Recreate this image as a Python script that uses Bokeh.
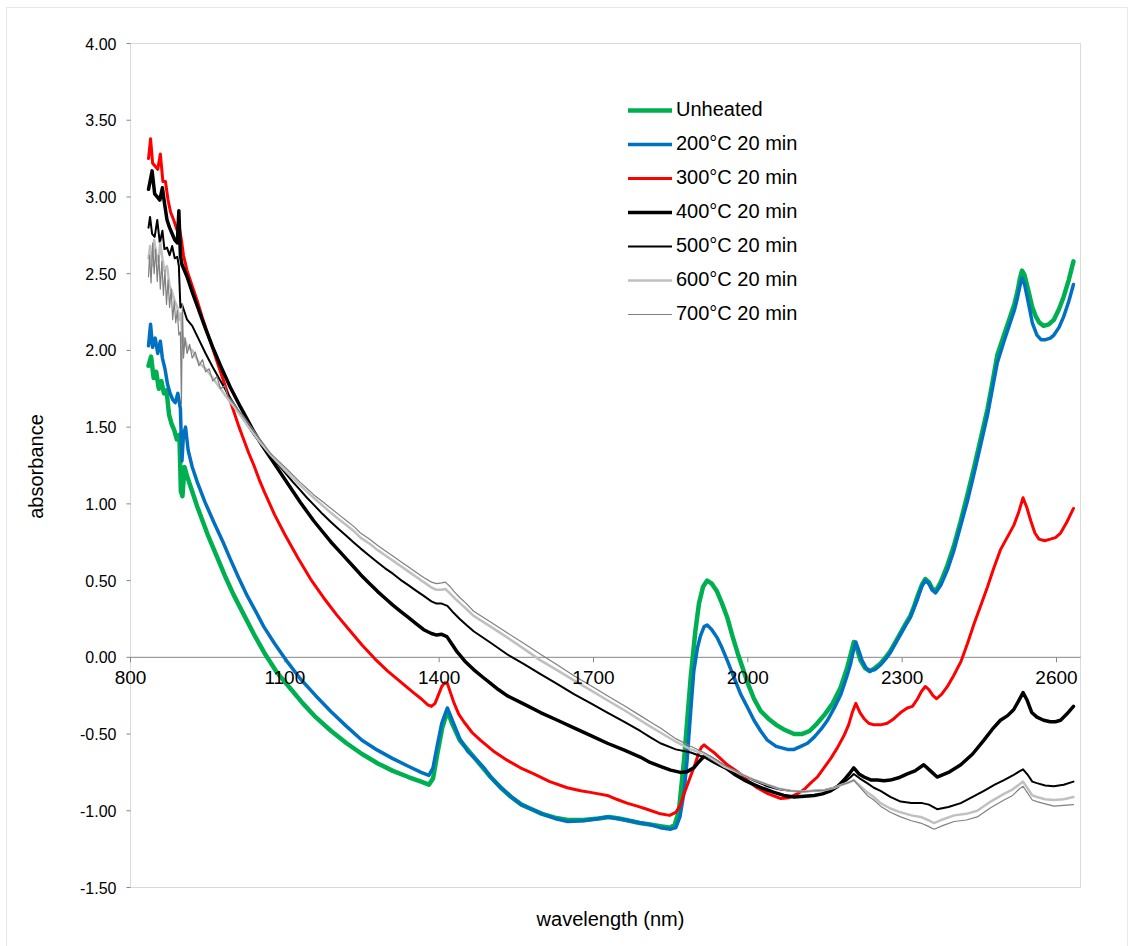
from bokeh.plotting import figure
from bokeh.models import (Range1d, LabelSet, Label, ColumnDataSource, Legend, LegendItem,
                          BoxAnnotation)
from bokeh.core.properties import value
from bokeh.embed import file_html
from bokeh.resources import INLINE

# ---------------- data (wavelength nm, absorbance) ----------------
unheated = [(835,1.90),(840,1.96),(845,1.82),(850,1.86),(855,1.75),(860,1.80),(865,1.72),(870,1.74),
 (875,1.58),(880,1.52),(885,1.48),(890,1.42),(895,1.45),(898,1.08),(901,1.05),(905,1.24),(910,1.18),
 (920,1.08),(930,0.98),(940,0.89),(950,0.80),(960,0.72),(970,0.64),(985,0.52),(1000,0.41),(1020,0.28),
 (1040,0.15),(1060,0.03),(1085,-0.10),(1110,-0.20),(1135,-0.30),(1160,-0.39),(1190,-0.48),(1220,-0.56),
 (1250,-0.63),(1280,-0.69),(1310,-0.74),(1340,-0.78),(1365,-0.81),(1380,-0.83),(1388,-0.79),(1397,-0.62),
 (1406,-0.46),(1416,-0.35),(1425,-0.43),(1440,-0.54),(1455,-0.60),(1470,-0.66),(1485,-0.72),(1500,-0.78),
 (1520,-0.85),(1540,-0.91),(1560,-0.96),(1580,-0.99),(1600,-1.02),(1625,-1.045),(1650,-1.06),(1680,-1.06),
 (1710,-1.05),(1730,-1.04),(1750,-1.05),(1770,-1.065),(1790,-1.08),(1810,-1.09),(1830,-1.10),(1850,-1.11),
 (1858,-1.09),(1866,-1.00),(1876,-0.67),(1889,-0.13),(1898,0.17),(1905,0.35),(1913,0.46),(1921,0.50),
 (1930,0.48),(1940,0.43),(1950,0.35),(1960,0.26),(1970,0.14),(1980,0.03),(1990,-0.07),(2000,-0.17),
 (2012,-0.27),(2025,-0.35),(2040,-0.40),(2055,-0.44),(2070,-0.47),(2090,-0.50),(2105,-0.50),(2120,-0.48),
 (2135,-0.43),(2150,-0.37),(2165,-0.30),(2180,-0.20),(2193,-0.07),(2200,0.02),(2206,0.10),(2212,0.06),
 (2219,-0.02),(2228,-0.07),(2237,-0.09),(2247,-0.07),(2258,-0.04),(2268,0.00),(2277,0.04),(2287,0.10),
 (2297,0.16),(2307,0.22),(2316,0.27),(2323,0.33),(2330,0.40),(2338,0.47),(2345,0.51),(2352,0.49),
 (2358,0.45),(2365,0.43),(2375,0.49),(2388,0.60),(2400,0.72),(2414,0.89),(2427,1.06),(2440,1.24),
 (2453,1.43),(2466,1.62),(2476,1.80),(2485,1.97),(2498,2.10),(2510,2.22),(2518,2.30),(2524,2.38),
 (2529,2.47),(2533,2.52),(2538,2.49),(2546,2.38),(2553,2.28),(2560,2.22),(2567,2.18),(2575,2.16),
 (2585,2.17),(2595,2.20),(2605,2.27),(2614,2.35),(2624,2.46),(2633,2.58)]

c200 = [(835,2.03),(839,2.17),(843,2.02),(848,2.08),(853,1.98),(858,2.06),(862,1.95),(867,1.88),
 (872,1.78),(877,1.72),(882,1.68),(887,1.66),(892,1.72),(897,1.62),(900,1.28),(903,1.45),(907,1.50),
 (912,1.35),(920,1.24),(930,1.14),(945,1.01),(962,0.88),(980,0.75),(994,0.64),(1010,0.52),(1027,0.40),
 (1045,0.29),(1059,0.20),(1080,0.09),(1105,-0.03),(1130,-0.14),(1160,-0.25),(1190,-0.355),(1220,-0.45),
 (1250,-0.54),(1280,-0.605),(1310,-0.66),(1340,-0.71),(1365,-0.75),(1380,-0.77),(1388,-0.72),(1396,-0.58),
 (1405,-0.43),(1416,-0.33),(1428,-0.43),(1440,-0.53),(1455,-0.61),(1470,-0.66),(1487,-0.72),(1500,-0.78),
 (1520,-0.85),(1540,-0.91),(1560,-0.96),(1580,-0.99),(1600,-1.02),(1625,-1.05),(1650,-1.07),(1681,-1.065),
 (1710,-1.05),(1727,-1.04),(1746,-1.05),(1770,-1.065),(1791,-1.08),(1810,-1.09),(1830,-1.11),(1850,-1.12),
 (1860,-1.11),(1868,-1.04),(1876,-0.88),(1882,-0.67),(1889,-0.35),(1895,-0.09),(1902,0.06),(1908,0.14),
 (1915,0.20),(1921,0.21),(1930,0.18),(1940,0.13),(1950,0.06),(1960,-0.02),(1973,-0.13),(1986,-0.24),
 (2000,-0.33),(2012,-0.41),(2025,-0.48),(2038,-0.54),(2055,-0.58),(2077,-0.60),(2090,-0.60),(2103,-0.58),
 (2116,-0.56),(2129,-0.52),(2142,-0.47),(2155,-0.41),(2168,-0.33),(2181,-0.24),(2192,-0.13),(2200,-0.04),
 (2205,0.04),(2210,0.10),(2216,0.04),(2222,-0.02),(2230,-0.07),(2237,-0.09),(2247,-0.08),(2258,-0.05),
 (2268,-0.01),(2277,0.03),(2287,0.09),(2297,0.15),(2307,0.21),(2316,0.26),(2323,0.32),(2330,0.38),
 (2338,0.46),(2345,0.50),(2352,0.48),(2358,0.44),(2365,0.42),(2375,0.47),(2388,0.57),(2400,0.69),
 (2414,0.86),(2427,1.02),(2440,1.20),(2453,1.39),(2466,1.58),(2476,1.76),(2485,1.92),(2498,2.06),
 (2510,2.18),(2518,2.26),(2524,2.34),(2529,2.42),(2533,2.47),(2538,2.43),(2546,2.30),(2553,2.18),
 (2562,2.10),(2570,2.07),(2579,2.07),(2588,2.08),(2595,2.10),(2605,2.15),(2614,2.22),(2624,2.32),
 (2633,2.43)]

c300 = [(835,3.25),(839,3.38),(843,3.22),(848,3.20),(853,3.18),(858,3.28),(863,3.10),(868,3.10),
 (873,2.98),(878,2.90),(884,2.85),(891,2.78),(895,2.80),(899,2.72),(903,2.62),(910,2.52),(920,2.42),
 (930,2.32),(940,2.21),(950,2.11),(960,2.01),(970,1.91),(980,1.81),(990,1.71),(1000,1.61),(1010,1.51),
 (1020,1.42),(1030,1.33),(1040,1.25),(1050,1.16),(1060,1.08),(1080,0.93),(1100,0.80),(1125,0.65),
 (1150,0.51),(1175,0.39),(1200,0.28),(1225,0.18),(1250,0.08),(1275,-0.01),(1300,-0.09),(1325,-0.16),
 (1350,-0.23),(1365,-0.27),(1378,-0.31),(1385,-0.32),(1392,-0.30),(1398,-0.25),(1405,-0.19),
 (1411,-0.165),(1416,-0.17),(1422,-0.23),(1428,-0.29),(1438,-0.37),(1448,-0.42),(1464,-0.49),
 (1480,-0.54),(1505,-0.61),(1532,-0.67),(1558,-0.72),(1584,-0.76),(1615,-0.81),(1649,-0.85),(1675,-0.87),
 (1694,-0.88),(1710,-0.89),(1727,-0.90),(1745,-0.925),(1765,-0.95),(1785,-0.97),(1804,-0.99),(1830,-1.02),
 (1848,-1.03),(1860,-1.01),(1868,-0.97),(1876,-0.89),(1886,-0.80),(1895,-0.72),(1905,-0.62),(1910,-0.585),
 (1915,-0.57),(1922,-0.59),(1934,-0.62),(1947,-0.66),(1960,-0.70),(1973,-0.73),(1986,-0.76),(2002,-0.81),
 (2018,-0.85),(2040,-0.89),(2064,-0.92),(2080,-0.915),(2096,-0.89),(2110,-0.86),(2122,-0.82),(2135,-0.78),
 (2148,-0.72),(2161,-0.66),(2174,-0.59),(2187,-0.51),(2196,-0.44),(2203,-0.36),(2210,-0.30),(2218,-0.36),
 (2226,-0.40),(2235,-0.43),(2245,-0.44),(2258,-0.44),(2271,-0.43),(2284,-0.40),(2297,-0.36),(2310,-0.33),
 (2320,-0.32),(2330,-0.27),(2338,-0.22),(2345,-0.19),(2352,-0.21),(2360,-0.25),(2367,-0.27),(2377,-0.24),
 (2388,-0.19),(2400,-0.12),(2414,-0.03),(2427,0.09),(2440,0.22),(2453,0.34),(2466,0.46),(2478,0.58),
 (2491,0.70),(2504,0.78),(2517,0.86),(2526,0.94),(2535,1.04),(2542,0.98),(2550,0.89),(2558,0.81),
 (2566,0.77),(2577,0.76),(2588,0.77),(2598,0.78),(2608,0.81),(2620,0.88),(2633,0.97)]

c400 = [(835,3.05),(838,3.10),(842,3.17),(847,3.02),(852,3.00),(857,2.98),(862,3.06),(866,2.96),
 (871,2.85),(876,2.80),(881,2.76),(886,2.72),(891,2.70),(894,2.91),(897,2.62),(900,2.56),(910,2.48),
 (920,2.38),(933,2.26),(946,2.14),(960,2.02),(975,1.90),(994,1.76),(1014,1.63),(1040,1.47),(1056,1.38),
 (1072,1.30),(1086,1.23),(1100,1.16),(1115,1.085),(1130,1.01),(1143,0.95),(1156,0.89),(1173,0.82),
 (1190,0.75),(1205,0.695),(1220,0.64),(1235,0.585),(1247,0.54),(1265,0.48),(1280,0.43),(1295,0.385),
 (1310,0.34),(1325,0.30),(1340,0.26),(1355,0.22),(1370,0.18),(1385,0.155),(1395,0.145),(1405,0.15),
 (1415,0.135),(1425,0.085),(1435,0.035),(1450,-0.025),(1467,-0.08),(1485,-0.13),(1500,-0.17),
 (1515,-0.21),(1532,-0.25),(1565,-0.305),(1597,-0.36),(1630,-0.41),(1662,-0.46),(1695,-0.51),
 (1727,-0.56),(1760,-0.605),(1791,-0.65),(1810,-0.685),(1830,-0.71),(1850,-0.735),(1869,-0.75),
 (1882,-0.745),(1895,-0.72),(1905,-0.68),(1915,-0.645),(1925,-0.65),(1940,-0.68),(1957,-0.72),
 (1973,-0.76),(1993,-0.80),(2012,-0.83),(2030,-0.855),(2051,-0.88),(2070,-0.90),(2090,-0.91),
 (2110,-0.905),(2129,-0.90),(2145,-0.89),(2161,-0.87),(2175,-0.84),(2187,-0.80),(2197,-0.76),
 (2206,-0.72),(2216,-0.76),(2226,-0.78),(2240,-0.80),(2252,-0.80),(2265,-0.805),(2277,-0.80),
 (2293,-0.785),(2310,-0.76),(2325,-0.74),(2342,-0.70),(2355,-0.74),(2368,-0.78),(2390,-0.75),
 (2414,-0.70),(2437,-0.63),(2459,-0.54),(2475,-0.47),(2491,-0.41),(2505,-0.38),(2517,-0.34),
 (2527,-0.28),(2535,-0.23),(2543,-0.28),(2552,-0.36),(2562,-0.39),(2575,-0.41),(2588,-0.42),
 (2598,-0.42),(2608,-0.41),(2620,-0.37),(2633,-0.32)]

c500 = [(835,2.80),(838,2.87),(842,2.76),(847,2.74),(852,2.85),(857,2.70),(862,2.78),(866,2.66),
 (871,2.67),(876,2.62),(881,2.68),(886,2.60),(891,2.61),(894,2.55),(897,2.28),(900,2.30),(905,2.25),
 (910,2.20),(920,2.16),(933,2.07),(946,1.98),(960,1.89),(975,1.80),(994,1.69),(1014,1.58),(1040,1.45),
 (1056,1.38),(1072,1.32),(1086,1.26),(1100,1.205),(1115,1.145),(1130,1.09),(1143,1.04),(1156,0.995),
 (1173,0.935),(1190,0.88),(1205,0.835),(1220,0.79),(1235,0.745),(1247,0.71),(1265,0.66),(1280,0.62),
 (1295,0.58),(1310,0.545),(1325,0.505),(1340,0.47),(1355,0.435),(1370,0.40),(1385,0.365),(1395,0.35),
 (1405,0.35),(1416,0.335),(1428,0.29),(1440,0.25),(1453,0.21),(1467,0.17),(1500,0.095),(1532,0.02),
 (1565,-0.045),(1597,-0.11),(1630,-0.175),(1662,-0.24),(1695,-0.30),(1727,-0.36),(1760,-0.42),
 (1791,-0.48),(1810,-0.52),(1830,-0.56),(1860,-0.60),(1889,-0.62),(1905,-0.64),(1915,-0.65),
 (1935,-0.69),(1953,-0.72),(1970,-0.74),(1986,-0.76),(2010,-0.80),(2038,-0.84),(2060,-0.86),
 (2083,-0.87),(2106,-0.875),(2129,-0.87),(2150,-0.865),(2168,-0.85),(2183,-0.82),(2193,-0.80),
 (2200,-0.78),(2206,-0.76),(2218,-0.79),(2232,-0.82),(2245,-0.85),(2258,-0.87),(2277,-0.91),
 (2297,-0.94),(2318,-0.95),(2339,-0.95),(2352,-0.96),(2368,-0.99),(2390,-0.975),(2414,-0.95),
 (2437,-0.91),(2459,-0.87),(2480,-0.83),(2498,-0.80),(2515,-0.77),(2527,-0.745),(2535,-0.73),
 (2545,-0.77),(2553,-0.81),(2562,-0.82),(2578,-0.835),(2595,-0.84),(2614,-0.83),(2633,-0.81)]

c600 = [(835,2.60),(838,2.68),(842,2.55),(846,2.72),(850,2.62),(854,2.58),(858,2.70),(862,2.60),
 (866,2.52),(871,2.55),(876,2.42),(881,2.38),(886,2.32),(891,2.28),(895,2.20),(898,2.24),(901,2.05),
 (905,2.08),(910,2.02),(920,2.00),(933,1.92),(946,1.88),(960,1.82),(975,1.75),(990,1.68),(1000,1.64),
 (1015,1.57),(1030,1.50),(1050,1.41),(1072,1.32),(1086,1.27),(1100,1.22),(1115,1.17),(1130,1.12),
 (1143,1.08),(1156,1.04),(1173,0.99),(1190,0.94),(1205,0.90),(1220,0.86),(1235,0.82),(1247,0.78),
 (1265,0.74),(1280,0.70),(1295,0.665),(1310,0.63),(1325,0.595),(1340,0.56),(1355,0.525),(1370,0.49),
 (1385,0.455),(1395,0.44),(1405,0.44),(1412,0.445),(1420,0.42),(1430,0.385),(1440,0.355),(1453,0.315),
 (1467,0.27),(1500,0.20),(1532,0.13),(1565,0.055),(1597,-0.02),(1630,-0.085),(1662,-0.15),(1695,-0.215),
 (1727,-0.28),(1760,-0.345),(1791,-0.41),(1810,-0.45),(1830,-0.49),(1860,-0.55),(1889,-0.60),
 (1915,-0.63),(1935,-0.67),(1953,-0.71),(1970,-0.735),(1986,-0.76),(2010,-0.795),(2038,-0.83),
 (2060,-0.855),(2083,-0.87),(2106,-0.875),(2129,-0.87),(2150,-0.865),(2168,-0.85),(2183,-0.83),
 (2193,-0.82),(2200,-0.81),(2206,-0.80),(2219,-0.84),(2232,-0.88),(2245,-0.91),(2258,-0.95),
 (2277,-0.985),(2297,-1.01),(2318,-1.03),(2336,-1.04),(2350,-1.06),(2362,-1.08),(2380,-1.055),
 (2401,-1.03),(2425,-1.02),(2446,-1.00),(2472,-0.94),(2498,-0.89),(2515,-0.86),(2527,-0.83),
 (2535,-0.81),(2545,-0.86),(2553,-0.90),(2562,-0.91),(2578,-0.925),(2595,-0.93),(2614,-0.925),
 (2633,-0.91)]

c700 = [(835,2.48),(837,2.62),(840,2.44),(843,2.70),(846,2.50),(849,2.66),(852,2.45),(855,2.62),
 (858,2.40),(861,2.58),(864,2.36),(867,2.52),(870,2.30),(873,2.46),(876,2.28),(879,2.40),(882,2.20),
 (885,2.32),(888,2.18),(891,2.26),(894,2.10),(897,2.12),(899,1.65),(901,2.30),(903,1.95),(906,2.08),
 (910,1.98),(915,2.04),(920,1.95),(926,1.99),(933,1.90),(940,1.94),(946,1.86),(953,1.88),(960,1.80),
 (968,1.83),(975,1.75),(983,1.77),(990,1.70),(1000,1.66),(1010,1.61),(1020,1.57),(1035,1.50),
 (1050,1.43),(1072,1.33),(1086,1.285),(1100,1.24),(1115,1.19),(1130,1.14),(1143,1.10),(1156,1.06),
 (1173,1.015),(1190,0.97),(1205,0.93),(1220,0.89),(1235,0.85),(1247,0.81),(1265,0.77),(1280,0.73),
 (1295,0.695),(1310,0.66),(1325,0.625),(1340,0.59),(1355,0.555),(1370,0.52),(1385,0.49),(1395,0.48),
 (1405,0.485),(1412,0.49),(1420,0.465),(1430,0.425),(1440,0.39),(1453,0.35),(1467,0.30),(1500,0.23),
 (1532,0.16),(1565,0.09),(1597,0.02),(1630,-0.05),(1662,-0.12),(1695,-0.185),(1727,-0.25),
 (1760,-0.315),(1791,-0.38),(1810,-0.42),(1830,-0.46),(1860,-0.53),(1889,-0.58),(1915,-0.62),
 (1935,-0.66),(1953,-0.70),(1970,-0.73),(1986,-0.76),(2010,-0.795),(2038,-0.83),(2060,-0.855),
 (2083,-0.87),(2106,-0.875),(2129,-0.87),(2150,-0.865),(2168,-0.85),(2183,-0.83),(2193,-0.82),
 (2200,-0.81),(2206,-0.80),(2219,-0.85),(2232,-0.90),(2245,-0.93),(2258,-0.97),(2277,-1.01),
 (2297,-1.04),(2318,-1.065),(2336,-1.08),(2350,-1.10),(2362,-1.12),(2380,-1.095),(2401,-1.07),
 (2425,-1.06),(2446,-1.04),(2472,-0.98),(2498,-0.93),(2515,-0.90),(2527,-0.86),(2535,-0.84),
 (2545,-0.89),(2553,-0.93),(2562,-0.94),(2578,-0.955),(2595,-0.97),(2614,-0.965),(2633,-0.96)]

series_names = ["Unheated", "200°C 20 min", "300°C 20 min", "400°C 20 min",
                "500°C 20 min", "600°C 20 min", "700°C 20 min"]
series_data = [unheated, c200, c300, c400, c500, c600, c700]

x_ticks = [800, 1100, 1400, 1700, 2000, 2300, 2600]
x_tick_labels = ["800", "1100", "1400", "1700", "2000", "2300", "2600"]
y_ticks = [-1.5, -1.0, -0.5, 0.0, 0.5, 1.0, 1.5, 2.0, 2.5, 3.0, 3.5, 4.0]
y_tick_labels = ["%.2f" % v for v in y_ticks]

# ---------------- layout / styles ----------------
W, H = 1130, 946
X_MIN, X_MAX = 800.0, 2646.7          # plot-area range (nm)
Y_MIN, Y_MAX = -1.5, 4.0              # plot-area range (absorbance)
PA_LEFT, PA_TOP, PA_W, PA_H = 130, 43, 950, 844   # plot area on the page (px)
PX_X = PA_W / (X_MAX - X_MIN)
PX_Y = PA_H / (Y_MAX - Y_MIN)


def dx(px):   # page px -> nm
    return X_MIN + (px - PA_LEFT) / PX_X


def dy(py):   # page px (from top) -> absorbance
    return Y_MAX - (py - PA_TOP) / PX_Y


colors = ["#00B050", "#0070C0", "#FF0000", "#000000", "#000000", "#C0C0C0", "#808080"]
widths = [4.5, 3.5, 3.0, 3.5, 2.0, 2.5, 1.2]
FONT = "Liberation Sans"
AXIS_GREY = "#868686"

p = figure(width=W, height=H, output_backend="svg", toolbar_location=None,
           x_range=Range1d(dx(0), dx(W)), y_range=Range1d(dy(H), dy(0)),
           x_axis_location=None, y_axis_location=None,
           min_border_left=0, min_border_right=0, min_border_top=0, min_border_bottom=0)
p.background_fill_color = "white"
p.border_fill_color = "white"
p.outline_line_color = None
p.grid.visible = False

# outer chart border
p.add_layout(BoxAnnotation(left=dx(6), right=dx(1127), top=dy(7), bottom=dy(H + 20),
                           fill_alpha=0, line_color="#B4B4B4", line_width=1))
# plot-area frame
p.add_layout(BoxAnnotation(left=X_MIN, right=X_MAX, top=Y_MAX, bottom=Y_MIN,
                           fill_alpha=0, line_color=AXIS_GREY, line_width=1))

# y axis ticks and labels
ytl = 4 / PX_X
p.segment(x0=[X_MIN - ytl] * len(y_ticks), y0=y_ticks, x1=[X_MIN] * len(y_ticks), y1=y_ticks,
          line_color=AXIS_GREY, line_width=1)
ysrc = ColumnDataSource(dict(x=[X_MIN] * len(y_ticks), y=y_ticks, t=y_tick_labels))
p.add_layout(LabelSet(x="x", y="y", text="t", source=ysrc, text_align="right",
                      text_baseline="middle", x_offset=-14, text_font=value(FONT),
                      text_font_size=value("16px"), text_color="#000000"))

# x axis crossing at absorbance 0
p.segment(x0=[X_MIN], y0=[0], x1=[X_MAX], y1=[0], line_color=AXIS_GREY, line_width=1)
xtl = 5 / PX_Y
p.segment(x0=x_ticks, y0=[0] * len(x_ticks), x1=x_ticks, y1=[-xtl] * len(x_ticks),
          line_color=AXIS_GREY, line_width=1)
xsrc = ColumnDataSource(dict(x=x_ticks, y=[0] * len(x_ticks), t=x_tick_labels))
p.add_layout(LabelSet(x="x", y="y", text="t", source=xsrc, text_align="center",
                      text_baseline="top", y_offset=-14, text_font=value(FONT),
                      text_font_size=value("19px"), text_color="#000000"))

# axis titles
p.add_layout(Label(x=dx(35), y=dy(466), text="absorbance", angle=1.5707963, text_align="center",
                   text_baseline="middle", text_font=FONT, text_font_size="20px",
                   text_color="#000000"))
p.add_layout(Label(x=dx(610), y=dy(918), text="wavelength (nm)", text_align="center",
                   text_baseline="middle", text_font=FONT, text_font_size="20px",
                   text_color="#000000"))

items = []
for name, data, col, w in zip(series_names, series_data, colors, widths):
    xs = [d[0] for d in data]
    ys = [d[1] for d in data]
    r = p.line(xs, ys, line_color=col, line_width=w, line_join="round", line_cap="round")
    items.append(LegendItem(label=name, renderers=[r]))

legend = Legend(items=items, location=(628, 621), orientation="vertical")
legend.border_line_color = None
legend.background_fill_alpha = 0
legend.padding = 0
legend.margin = 0
legend.spacing = 11
legend.glyph_height = 20
legend.glyph_width = 44
legend.label_height = 20
legend.label_standoff = 4
legend.label_text_font = FONT
legend.label_text_font_size = "20px"
legend.label_text_color = "#000000"
p.add_layout(legend)

open("out.html", "w").write(file_html(p, INLINE))
